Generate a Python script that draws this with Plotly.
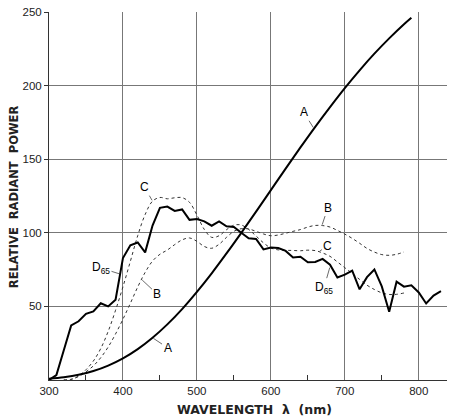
import plotly.graph_objects as go

# wavelengths (nm) and relative radiant power
wl_a = [300, 320, 340, 360, 380, 400, 420, 440, 460, 480, 500, 520, 540, 560, 580, 600,
        620, 640, 660, 680, 700, 720, 740, 760, 780, 790]
ill_a = [0.9, 1.9, 3.5, 6.1, 9.8, 14.7, 21.0, 28.7, 37.8, 48.2, 59.9, 72.5, 86.0, 100.0,
         114.4, 129.0, 143.6, 158.0, 172.0, 185.4, 198.3, 210.4, 221.7, 232.1, 241.7, 246.1]

wl_d65 = [300, 310, 320, 330, 340, 350, 360, 370, 380, 390, 400, 410, 420, 430, 440, 450,
          460, 470, 480, 490, 500, 510, 520, 530, 540, 550, 560, 570, 580, 590, 600, 610,
          620, 630, 640, 650, 660, 670, 680, 690, 700, 710, 720, 730, 740, 750, 760, 770,
          780, 790, 800, 810, 820, 830]
ill_d65 = [0.0, 3.3, 20.2, 37.1, 39.9, 44.9, 46.6, 52.1, 50.0, 54.6, 82.8, 91.5, 93.4, 86.7,
           104.9, 117.0, 117.8, 114.9, 115.9, 108.8, 109.4, 107.8, 104.8, 107.7, 104.4, 104.0,
           100.0, 96.3, 95.8, 88.7, 90.0, 89.6, 87.7, 83.3, 83.7, 80.0, 80.2, 82.3, 78.3, 69.7,
           71.6, 74.3, 61.6, 69.9, 75.1, 63.6, 46.4, 66.8, 63.4, 64.3, 59.5, 52.0, 57.4, 60.3]

wl_bc = [320, 330, 340, 350, 360, 370, 380, 390, 400, 410, 420, 430, 440, 450, 460, 470,
         480, 490, 500, 510, 520, 530, 540, 550, 560, 570, 580, 590, 600, 610, 620, 630,
         640, 650, 660, 670, 680, 690, 700, 710, 720, 730, 740, 750, 760, 770, 780]
ill_b = [0.0, 0.5, 2.4, 5.6, 9.6, 15.2, 22.4, 31.3, 41.3, 52.1, 63.2, 73.1, 80.8, 85.4,
         88.3, 92.0, 95.2, 96.5, 94.2, 90.7, 89.5, 92.2, 96.9, 101.0, 102.8, 102.6, 101.0,
         99.2, 98.0, 98.5, 99.7, 101.0, 102.2, 103.9, 105.0, 104.9, 103.9, 101.6, 99.1, 96.2,
         92.9, 89.4, 86.9, 85.2, 84.7, 85.4, 87.0]
ill_c = [0.0, 0.4, 2.7, 7.0, 12.9, 21.4, 33.0, 47.4, 63.3, 80.6, 98.1, 112.4, 121.5, 124.0,
         123.1, 123.8, 123.9, 120.7, 112.1, 102.3, 96.9, 98.0, 102.1, 105.2, 105.3, 102.3,
         97.8, 93.2, 89.7, 88.4, 88.1, 88.0, 87.8, 88.2, 87.9, 86.3, 84.0, 80.2, 76.3, 72.4,
         68.3, 64.4, 61.5, 59.2, 58.1, 58.2, 59.1]

x_ticks = [300, 400, 500, 600, 700, 800]
x_minor = [350, 450, 550, 650, 750]
y_ticks = [50, 100, 150, 200, 250]

fig = go.Figure()
fig.add_trace(go.Scatter(x=wl_bc, y=ill_b, mode='lines', line=dict(color='#333', width=1, dash='dot', shape='spline')))
fig.add_trace(go.Scatter(x=wl_bc, y=ill_c, mode='lines', line=dict(color='#333', width=1, dash='dot', shape='spline')))
fig.add_trace(go.Scatter(x=wl_a, y=ill_a, mode='lines', line=dict(color='black', width=2, shape='spline')))
fig.add_trace(go.Scatter(x=wl_d65, y=ill_d65, mode='lines', line=dict(color='black', width=2)))

lab_font = dict(family='Liberation Sans', size=12, color='black')
# labels with leader lines: (x, y on curve, text, ax, ay)
labels = [(658, 171, 'A', -10, -16), (440, 28.7, 'A', 15, 10),
          (669, 104.9, 'B', 6, -18), (425, 68.4, 'B', 16, 15),
          (440, 121.5, 'C', -8, -14), (665, 87.2, 'C', 9, -6),
          (396, 72, 'D<sub>65</sub>', -19, -6), (680, 77, 'D<sub>65</sub>', -6, 21)]
for x, y, t, ax, ay in labels:
    fig.add_annotation(x=x, y=y, text=t, showarrow=True, arrowhead=0, arrowwidth=0.8,
                       arrowcolor='#444', ax=ax, ay=ay, standoff=1, font=lab_font)

# axis titles placed by hand so the plot area keeps its position
fig.add_annotation(text='<b>WAVELENGTH  λ  (nm)</b>', xref='paper', yref='paper',
                   x=0.505, y=-0.08, xanchor='center', yanchor='middle', showarrow=False,
                   font=dict(family='DejaVu Sans', size=12.5, color='#222'))
fig.add_annotation(text='<b>RELATIVE  RADIANT  POWER</b>', xref='paper', yref='paper',
                   x=-0.086, y=0.497, xanchor='center', yanchor='middle', showarrow=False,
                   textangle=-90, font=dict(family='DejaVu Sans', size=11.5, color='#222'))

# the page body has an 8px margin, so the figure is 8px smaller than the window
fig.update_layout(width=447, height=409, margin=dict(l=41, r=0, t=4, b=37),
                  plot_bgcolor='white', paper_bgcolor='white', showlegend=False,
                  font=dict(family='Liberation Sans', size=11.5, color='#222'))
fig.update_xaxes(range=[300, 849], tickvals=x_ticks, automargin=False,
                 ticklabeloverflow='allow',
                 showgrid=True, gridcolor='#777', gridwidth=1, zeroline=False,
                 showline=True, linecolor='#333', linewidth=1,
                 ticks='inside', ticklen=0,
                 minor=dict(tickvals=x_minor, ticks='inside', ticklen=5, tickcolor='#333', showgrid=False))
fig.update_layout(xaxis2=dict(overlaying='x', side='top', range=[300, 849], tickvals=x_minor,
                              ticks='inside', ticklen=5, tickcolor='#333', showticklabels=False,
                              showgrid=False, zeroline=False, showline=True, linecolor='#333',
                              linewidth=1, automargin=False))
fig.update_yaxes(range=[0, 250], tickvals=y_ticks, automargin=False,
                 ticklabeloverflow='allow',
                 showgrid=True, gridcolor='#777', gridwidth=1, zeroline=False,
                 showline=True, linecolor='#333', linewidth=1,
                 ticks='outside', ticklen=4, tickcolor='#333')

fig.write_html("out.html")
